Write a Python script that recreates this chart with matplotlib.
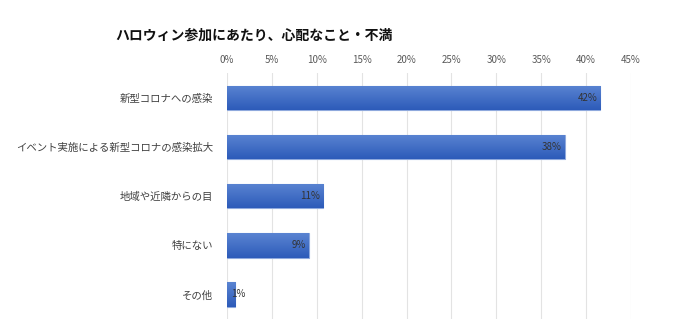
import numpy as np
import matplotlib.pyplot as plt
from matplotlib.colors import LinearSegmentedColormap

plt.rcParams['font.family'] = ['Noto Sans CJK JP', 'DejaVu Sans']

categories = ['新型コロナへの感染', 'イベント実施による新型コロナの感染拡大',
              '地域や近隣からの目', '特にない', 'その他']
values = [41.6, 37.6, 10.7, 9.1, 0.9]
xticks = [0, 5, 10, 15, 20, 25, 30, 35, 40, 45]

fig = plt.figure(figsize=(6.79, 3.25), dpi=100)
ax = fig.add_axes([0.3343, 0.0185, 0.595, 0.7555])

ypos = np.arange(len(categories))
bar_h = 0.5
grad = LinearSegmentedColormap.from_list('bar', ['#5a84d2', '#2d5bb9'])
g = np.linspace(0, 1, 64).reshape(-1, 1)

bars = ax.barh(ypos, values, height=bar_h, color='#3f6cc4',
               edgecolor='#8fa9dd', linewidth=0.8, zorder=2)
for b, y, v in zip(bars, ypos, values):
    im = ax.imshow(g, cmap=grad, aspect='auto', zorder=2.5,
                   extent=(0, v, y + bar_h / 2, y - bar_h / 2))
    im.set_clip_path(b)
    if v < 3:
        ax.annotate(f'{v:.0f}%', (0, y), xytext=(3, 0), textcoords='offset points',
                    ha='left', va='center', fontsize=7, color='#333333', zorder=3)
    else:
        ax.annotate(f'{v:.0f}%', (v, y), xytext=(-2, 0), textcoords='offset points',
                    ha='right', va='center', fontsize=7, color='#333333', zorder=3)

ax.set_xlim(0, 45)
ax.set_ylim(len(categories) - 0.5, -0.5)
ax.set_xticks(xticks)
ax.set_xticklabels([f'{t}%' for t in xticks])
ax.xaxis.tick_top()
ax.tick_params(axis='x', length=0, pad=6, labelsize=7, labelcolor='#595959')
ax.set_yticks(ypos)
ax.set_yticklabels(categories)
ax.tick_params(axis='y', length=0, pad=10, labelsize=7.5, labelcolor='#404040')
ax.grid(axis='x', color='#e3e3e3', linewidth=0.8, zorder=0)
ax.set_axisbelow(True)
for s in ax.spines.values():
    s.set_visible(False)

fig.text(0.374, 0.89, 'ハロウィン参加にあたり、心配なこと・不満',
         ha='center', va='center', fontsize=10, fontweight='bold', color='#111111')

fig.savefig('out.png', dpi=100)
